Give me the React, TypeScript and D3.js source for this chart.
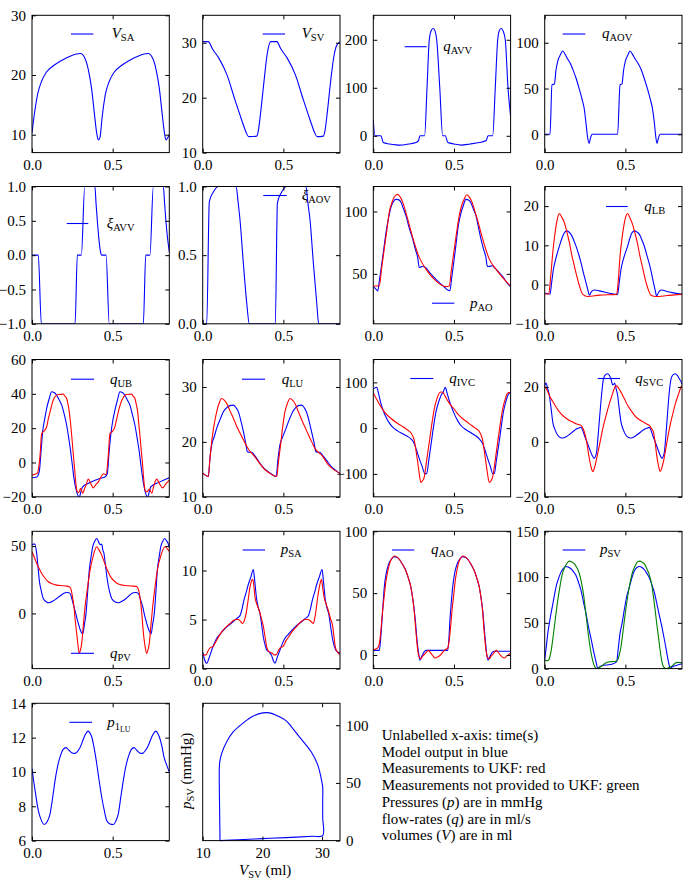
import React, { useEffect, useRef } from "react";
import * as d3 from "d3";

type Pt = [number, number];

const BLUE = "#0000ff";
const RED = "#ff0000";
const GREEN = "#008000";
const FONT = "Liberation Serif, Times New Roman, serif";

const timeTicks = [0, 0.5];
const tMax = 0.851;

// volumes
const vSA: Pt[] = [[0,10.3],[0.015,13.5],[0.035,16.8],[0.06,19.0],[0.09,20.5],[0.13,21.5],[0.18,22.4],[0.24,23.2],[0.3,23.6],[0.328,22.8],[0.349,20.9],[0.37,17.6],[0.386,13.7],[0.401,10.3],[0.411,9.1],[0.421,9.5],[0.435,13.0],[0.455,16.8],[0.48,19.0],[0.51,20.5],[0.55,21.5],[0.6,22.4],[0.66,23.2],[0.72,23.6],[0.748,22.8],[0.769,20.9],[0.79,17.6],[0.806,13.7],[0.821,10.3],[0.831,9.1],[0.841,9.5],[0.851,10.0]];
const vSV: Pt[] = [[0,30.2],[0.035,30.2],[0.06,28.9],[0.1,27.2],[0.15,24.2],[0.2,19.6],[0.235,16.5],[0.255,14.8],[0.27,13.6],[0.285,12.9],[0.335,13.0],[0.345,14.0],[0.36,17.5],[0.38,23.0],[0.4,28.0],[0.421,30.2],[0.459,30.2],[0.484,28.9],[0.524,27.2],[0.574,24.2],[0.624,19.6],[0.659,16.5],[0.679,14.8],[0.694,13.6],[0.709,12.9],[0.748,13.0],[0.758,14.0],[0.773,17.5],[0.793,23.0],[0.813,27.5],[0.83,29.5],[0.851,30.2]];

// valve flows and openings
const qAVV: Pt[] = [[0,33],[0.01,0],[0.047,0],[0.062,-14],[0.1,-17],[0.14,-19],[0.165,-19.4],[0.22,-17],[0.264,-14],[0.28,-10],[0.289,0],[0.318,0],[0.333,100],[0.347,200],[0.36,220],[0.372,223.6],[0.383,218],[0.393,200],[0.412,100],[0.43,0],[0.446,0],[0.462,-14],[0.5,-17],[0.543,-19.4],[0.6,-17],[0.657,-14],[0.7,-10],[0.711,0],[0.74,0],[0.756,100],[0.771,200],[0.782,220],[0.793,223.6],[0.805,218],[0.818,200],[0.835,100],[0.851,40]];
const qAOV: Pt[] = [[0,0],[0.033,0],[0.045,54],[0.06,55],[0.07,70],[0.081,80],[0.095,86],[0.112,91],[0.128,87],[0.143,82],[0.16,77],[0.174,71],[0.195,61],[0.215,49],[0.232,38],[0.246,27],[0.256,12],[0.265,-2],[0.275,-10],[0.284,-4],[0.293,0],[0.452,0],[0.467,54],[0.479,55],[0.489,70],[0.5,80],[0.514,86],[0.529,91],[0.545,87],[0.562,82],[0.58,77],[0.597,71],[0.617,61],[0.638,49],[0.655,38],[0.669,27],[0.68,12],[0.688,-2],[0.696,-10],[0.705,-4],[0.715,0],[0.851,0]];
const xiAVV: Pt[] = [[0,0],[0.039,0],[0.058,-1],[0.267,-1],[0.281,0],[0.306,0],[0.327,1],[0.39,1],[0.397,0.75],[0.405,0.5],[0.414,0.25],[0.423,0.07],[0.432,0],[0.459,0],[0.479,-1],[0.69,-1],[0.705,0],[0.731,0],[0.752,1],[0.814,1],[0.822,0.75],[0.83,0.5],[0.84,0.25],[0.851,0.05]];
const xiAOV: Pt[] = [[0,0],[0.025,0],[0.041,0.89],[0.066,0.96],[0.097,1],[0.207,1],[0.22,0.88],[0.231,0.76],[0.252,0.44],[0.273,0.15],[0.289,0],[0.45,0],[0.463,0.88],[0.49,0.96],[0.52,1],[0.64,1],[0.652,0.88],[0.665,0.76],[0.686,0.44],[0.707,0.15],[0.719,0],[0.851,0]];

// aortic pressure
const pAO: Pt[] = [[0,39.8],[0.015,38],[0.027,36.3],[0.038,45],[0.048,53.8],[0.063,68],[0.079,83.3],[0.095,95],[0.11,103.5],[0.125,108],[0.14,109.7],[0.155,109.5],[0.171,107.5],[0.186,102.5],[0.202,96.8],[0.222,87],[0.244,78],[0.26,70],[0.275,63.2],[0.285,55.1],[0.295,55.6],[0.302,55.9],[0.326,55],[0.347,51.5],[0.368,48.4],[0.409,43],[0.44,39.5],[0.461,37.1],[0.475,36.5],[0.485,46],[0.496,56.5],[0.511,72],[0.527,88.7],[0.542,98],[0.558,104.8],[0.574,109.7],[0.59,109.2],[0.605,107],[0.62,102],[0.636,96.8],[0.652,87],[0.667,78],[0.683,70],[0.698,63.2],[0.707,56],[0.715,55.9],[0.736,56.5],[0.76,53.8],[0.802,47.8],[0.847,40.3],[0.851,40]];
const pAOMeas: Pt[] = [[0,40.3],[0.037,40.3],[0.052,55],[0.068,70],[0.084,85],[0.099,99.5],[0.115,107],[0.13,111.6],[0.151,113.7],[0.167,111.5],[0.182,107.5],[0.198,101],[0.213,94],[0.244,79.3],[0.285,63.2],[0.326,53.8],[0.388,44.4],[0.45,39.8],[0.471,40.3],[0.483,52],[0.496,64.5],[0.515,82],[0.533,96.8],[0.548,105],[0.564,110],[0.579,113.4],[0.595,111.5],[0.612,107.5],[0.63,100],[0.647,92.7],[0.678,78],[0.719,61.8],[0.76,53.8],[0.802,47],[0.847,40.9],[0.851,40.5]];

// vessel flows
const qLB: Pt[] = [[0,-2.2],[0.033,-2.4],[0.043,0.5],[0.054,3.9],[0.07,6.8],[0.091,9.8],[0.107,11.8],[0.122,13.2],[0.136,13.7],[0.15,13.4],[0.163,12.8],[0.178,11.5],[0.194,9.8],[0.21,7.8],[0.225,5.6],[0.24,3],[0.256,0.5],[0.267,-1.3],[0.277,-2.7],[0.29,-1.8],[0.308,-1.4],[0.339,-1.6],[0.401,-2.2],[0.452,-2.5],[0.462,0.5],[0.473,3.9],[0.49,6.8],[0.514,9.8],[0.528,11.8],[0.541,13.2],[0.558,13.7],[0.572,13.4],[0.587,12.8],[0.603,11.3],[0.618,9.7],[0.633,7.5],[0.649,5.2],[0.662,2.9],[0.674,0.5],[0.684,-1.3],[0.694,-2.9],[0.707,-1.9],[0.721,-1.4],[0.773,-1.9],[0.847,-2.4],[0.851,-2.4]];
const qLBMeas: Pt[] = [[0,-2.4],[0.025,-2.4],[0.037,2],[0.05,8.1],[0.062,12.5],[0.074,15.8],[0.083,17.5],[0.091,18.1],[0.105,17.2],[0.122,15.8],[0.137,13.5],[0.153,10.7],[0.168,7.5],[0.184,4.7],[0.2,2],[0.215,-0.3],[0.236,-2.5],[0.267,-3.05],[0.339,-2.7],[0.446,-2.5],[0.456,1],[0.467,7.3],[0.48,12],[0.494,15.8],[0.504,17.5],[0.514,18.1],[0.528,17],[0.545,15.3],[0.56,13],[0.576,10.3],[0.59,7.3],[0.607,4.3],[0.622,1.5],[0.638,-0.8],[0.659,-2.7],[0.69,-3.05],[0.76,-2.8],[0.847,-2.5],[0.851,-2.5]];
const qUB: Pt[] = [[0,-8.9],[0.029,-8.5],[0.045,-5.4],[0.055,5],[0.066,17.9],[0.078,25],[0.091,31.5],[0.106,37],[0.122,41.2],[0.137,40.8],[0.153,39.2],[0.168,36.5],[0.184,33.4],[0.2,28],[0.215,21.7],[0.228,14],[0.24,6.2],[0.25,-1.5],[0.26,-9.3],[0.277,-17.1],[0.293,-20.2],[0.303,-17],[0.314,-14.2],[0.36,-11.7],[0.421,-9.3],[0.452,-8.5],[0.467,-6.4],[0.477,5],[0.488,15.9],[0.5,24],[0.514,30.5],[0.53,36.5],[0.545,41.2],[0.56,40.8],[0.576,39.2],[0.59,36.5],[0.607,33.4],[0.622,28],[0.638,21.7],[0.652,14],[0.665,6.2],[0.675,-1.5],[0.686,-9.3],[0.702,-17.1],[0.717,-20.2],[0.727,-17],[0.736,-14.2],[0.793,-11.3],[0.851,-8.9]];
const qUBMeas: Pt[] = [[0,-7.4],[0.033,-6.2],[0.05,4.3],[0.06,16.9],[0.074,18.3],[0.091,20.8],[0.1,25],[0.112,29.5],[0.124,34],[0.136,37.3],[0.15,39],[0.163,39.6],[0.194,39.8],[0.205,38.5],[0.215,37.3],[0.223,34],[0.231,29.5],[0.239,23],[0.246,15.9],[0.253,8],[0.26,0.4],[0.267,-7],[0.273,-13.2],[0.281,-17.1],[0.29,-17.5],[0.302,-15.1],[0.314,-17.9],[0.325,-15.5],[0.335,-13.2],[0.349,-9.7],[0.364,-12.2],[0.38,-14.8],[0.395,-13],[0.411,-11.3],[0.426,-8.8],[0.442,-6.6],[0.459,-7],[0.473,4.3],[0.483,16.9],[0.5,18.3],[0.514,20.8],[0.524,25],[0.535,29.5],[0.548,34],[0.562,37.3],[0.575,39],[0.587,39.6],[0.618,39.8],[0.628,38.5],[0.638,37.3],[0.646,34],[0.655,29.5],[0.662,22.5],[0.669,15.9],[0.676,8],[0.684,0.4],[0.69,-7],[0.696,-13.2],[0.705,-17.1],[0.714,-17],[0.727,-15.5],[0.742,-17.9],[0.756,-13.2],[0.773,-9.7],[0.789,-12.2],[0.81,-14.8],[0.83,-12.5],[0.851,-10.3]];
const qLU: Pt[] = [[0,14.3],[0.035,13.7],[0.045,17],[0.056,19.5],[0.07,20.8],[0.087,22.5],[0.108,24.1],[0.128,25.5],[0.148,26.2],[0.169,26.6],[0.19,26.7],[0.205,26.3],[0.221,25.5],[0.237,23.8],[0.252,21.9],[0.265,20],[0.277,18.2],[0.29,18.1],[0.304,18.1],[0.32,17.6],[0.335,17],[0.355,16.1],[0.376,15.3],[0.4,14.7],[0.428,14.1],[0.455,13.7],[0.467,17],[0.479,19.5],[0.497,21],[0.517,22.5],[0.537,24.1],[0.558,25.5],[0.575,26.2],[0.593,26.6],[0.614,26.7],[0.63,26.2],[0.645,25.3],[0.66,23.7],[0.676,21.7],[0.69,19.9],[0.702,18.2],[0.715,18.1],[0.727,18.1],[0.742,17.6],[0.758,17],[0.779,16.2],[0.8,15.4],[0.825,14.8],[0.847,14.3],[0.851,14.2]];
const qLUMeas: Pt[] = [[0,14.3],[0.035,13.7],[0.045,17],[0.056,20.1],[0.07,23],[0.087,25.5],[0.1,26.9],[0.118,27.9],[0.133,27.6],[0.149,27.0],[0.17,25.6],[0.19,24.3],[0.21,22.9],[0.231,21.6],[0.252,20.4],[0.273,19.2],[0.293,18.3],[0.314,17.6],[0.345,16.4],[0.376,15.2],[0.41,14.4],[0.438,13.9],[0.459,13.7],[0.47,16.5],[0.483,19.5],[0.497,23],[0.51,25.5],[0.525,27],[0.541,27.9],[0.556,27.6],[0.572,27.0],[0.593,25.5],[0.614,24],[0.635,22.6],[0.655,21.3],[0.676,20],[0.696,18.8],[0.717,18.1],[0.738,17.6],[0.758,16.7],[0.779,15.8],[0.81,15],[0.847,14.3],[0.851,14.2]];
const qIVC: Pt[] = [[0,85.5],[0.01,88],[0.021,89.1],[0.035,72],[0.048,52.9],[0.063,37],[0.079,23.9],[0.1,11],[0.12,2.2],[0.15,-6],[0.182,-12.3],[0.21,-17.5],[0.233,-23.2],[0.245,-28],[0.254,-34],[0.27,-50],[0.285,-66.7],[0.302,-83],[0.32,-99.3],[0.331,-99.3],[0.344,-70],[0.357,-37.7],[0.372,0],[0.388,34.8],[0.404,56],[0.419,71],[0.435,80],[0.446,89.1],[0.458,76],[0.471,60.1],[0.486,45],[0.502,31.2],[0.522,17],[0.543,5.8],[0.575,-3.5],[0.605,-10.1],[0.632,-16],[0.657,-23.2],[0.668,-28],[0.678,-34],[0.694,-50],[0.709,-66.7],[0.725,-83],[0.74,-99.3],[0.75,-99.3],[0.763,-70],[0.777,-37.7],[0.792,0],[0.806,34.8],[0.82,56],[0.833,71],[0.851,78.3]];
const qIVCMeas: Pt[] = [[0,76.8],[0.018,65],[0.037,52.9],[0.058,41],[0.079,31.2],[0.11,21],[0.14,13],[0.17,6],[0.202,-1.4],[0.22,-6],[0.233,-10.1],[0.245,-18],[0.254,-26.8],[0.265,-50],[0.275,-73.9],[0.285,-100],[0.295,-118.8],[0.305,-115],[0.316,-106.5],[0.33,-72],[0.347,-30.4],[0.362,7],[0.378,42],[0.394,64],[0.409,76.8],[0.42,79],[0.43,78.3],[0.445,70],[0.461,60.1],[0.476,52],[0.492,45.7],[0.517,34],[0.543,23.9],[0.575,15],[0.605,7.2],[0.632,0],[0.657,-7.2],[0.668,-15],[0.678,-26.8],[0.688,-50],[0.698,-75],[0.708,-100],[0.719,-118.8],[0.73,-115],[0.74,-106.5],[0.755,-72],[0.771,-30.4],[0.786,7],[0.802,42],[0.818,64],[0.833,76.8],[0.851,78.3]];
const qSVC: Pt[] = [[0,20.5],[0.008,21.4],[0.018,19.5],[0.029,16.9],[0.04,12],[0.05,7.2],[0.065,4.3],[0.081,2.4],[0.096,1.6],[0.112,1.4],[0.133,1.9],[0.153,2.7],[0.174,3.7],[0.194,4.6],[0.21,5.0],[0.225,5.3],[0.236,4.2],[0.246,2.4],[0.262,0],[0.277,-2.4],[0.293,-4.8],[0.308,-6],[0.315,-5.2],[0.322,-3.6],[0.332,3],[0.343,10.8],[0.354,18],[0.364,22.9],[0.377,24.5],[0.39,24.8],[0.401,24.2],[0.411,22.9],[0.421,20.7],[0.428,21.0],[0.434,21.4],[0.442,19.5],[0.452,16.9],[0.462,12],[0.473,7.2],[0.488,4.3],[0.504,2.4],[0.52,1.6],[0.535,1.4],[0.556,1.9],[0.576,2.7],[0.597,3.7],[0.618,4.6],[0.633,5],[0.649,5.3],[0.659,4.2],[0.669,2.4],[0.685,0],[0.7,-2.4],[0.715,-4.8],[0.727,-6],[0.735,-5.2],[0.742,-3.6],[0.752,3],[0.762,10.8],[0.772,18],[0.783,22.9],[0.796,24.5],[0.81,24.8],[0.822,24.2],[0.835,22.9],[0.847,21.7],[0.851,21.0]];
const qSVCMeas: Pt[] = [[0,20.2],[0.015,18.8],[0.029,16.9],[0.05,14.7],[0.07,12.7],[0.09,11],[0.112,9.6],[0.133,8.6],[0.153,7.8],[0.174,7.2],[0.194,6.6],[0.21,6.3],[0.225,6.0],[0.236,5.0],[0.246,3.6],[0.26,0],[0.273,-4.8],[0.285,-8.6],[0.298,-10.8],[0.308,-9.6],[0.318,-7.2],[0.34,-1],[0.36,4.8],[0.38,9.5],[0.401,13.9],[0.42,17.5],[0.442,20.5],[0.458,19.6],[0.473,18.1],[0.494,15.7],[0.514,13.3],[0.54,11],[0.566,9],[0.592,7.9],[0.618,7],[0.633,6.5],[0.649,6],[0.66,5],[0.674,3.6],[0.684,0],[0.694,-4.8],[0.705,-8.6],[0.715,-10.8],[0.725,-9.6],[0.736,-7.2],[0.755,-1],[0.773,4.8],[0.791,9.5],[0.81,13.9],[0.83,17.5],[0.847,20.2],[0.851,20.5]];
const qPV: Pt[] = [[0,50.7],[0.008,51.5],[0.017,51.5],[0.029,44.6],[0.037,35],[0.045,24.8],[0.058,16.5],[0.07,11.1],[0.088,8.7],[0.107,7.9],[0.13,9.2],[0.153,11.1],[0.18,13.5],[0.205,15.3],[0.22,15.5],[0.236,14.9],[0.248,10.5],[0.26,5],[0.274,-1.5],[0.287,-7.4],[0.3,-12.5],[0.314,-15.3],[0.325,-8],[0.335,0],[0.345,16],[0.355,32.2],[0.366,42],[0.376,49.5],[0.388,53.5],[0.401,55.7],[0.41,54],[0.417,52],[0.425,51],[0.432,51.5],[0.439,47],[0.446,44.6],[0.456,35],[0.467,24.8],[0.48,16.5],[0.494,11.1],[0.514,8.7],[0.535,7.9],[0.56,9.2],[0.583,11.1],[0.605,13.5],[0.628,15.3],[0.643,15.5],[0.659,14.9],[0.672,10.5],[0.686,5],[0.698,-1.5],[0.711,-7.4],[0.725,-12.5],[0.738,-15.3],[0.748,-8],[0.758,0],[0.768,16],[0.777,32.2],[0.788,42],[0.798,49.5],[0.81,53.5],[0.822,55.7],[0.834,54],[0.845,51.5],[0.851,49]];
const qPVMeas: Pt[] = [[0,45.8],[0.015,41.5],[0.029,37.1],[0.045,33.2],[0.06,29.7],[0.08,26.3],[0.101,23.5],[0.125,22],[0.153,21],[0.185,20.6],[0.215,20.3],[0.23,19.8],[0.24,18.6],[0.25,13],[0.26,5],[0.268,-5],[0.277,-14.9],[0.285,-23.5],[0.293,-29.7],[0.3,-27.5],[0.308,-22.3],[0.318,-9],[0.329,5],[0.344,19],[0.36,32.2],[0.38,43],[0.401,49.5],[0.416,47],[0.432,43.3],[0.447,38.5],[0.463,33.4],[0.478,29.3],[0.494,26],[0.515,23.5],[0.535,21.8],[0.566,20.9],[0.597,20.5],[0.625,20.3],[0.649,20],[0.659,18],[0.669,12.4],[0.679,2],[0.69,-14],[0.7,-24],[0.711,-29.7],[0.719,-27],[0.727,-22.3],[0.737,-9],[0.748,5],[0.762,19],[0.777,32.2],[0.8,43.5],[0.824,49.5],[0.845,47],[0.851,46]];

// atrial / ventricular pressures and aortic flow
const pSA: Pt[] = [[0,1.7],[0.012,0.9],[0.025,0.54],[0.04,1.1],[0.056,1.9],[0.07,2.5],[0.087,3.1],[0.107,3.5],[0.128,3.9],[0.16,4.4],[0.19,4.8],[0.21,5.1],[0.231,5.4],[0.244,6.1],[0.256,7],[0.27,7.8],[0.283,8.6],[0.298,9.3],[0.314,10.1],[0.322,9.0],[0.335,7],[0.345,6.2],[0.355,5.6],[0.366,4.4],[0.376,3.2],[0.387,2.4],[0.397,1.9],[0.412,1.7],[0.428,1.3],[0.438,0.8],[0.448,0.54],[0.463,1.2],[0.479,1.9],[0.495,2.6],[0.51,3.1],[0.531,3.5],[0.552,3.9],[0.583,4.4],[0.614,4.8],[0.635,5.1],[0.655,5.4],[0.668,6.1],[0.68,7],[0.694,7.8],[0.707,8.6],[0.722,9.3],[0.74,10.1],[0.748,9],[0.76,7],[0.77,6.2],[0.781,5.6],[0.792,4.4],[0.802,3.3],[0.812,2.5],[0.822,2],[0.835,1.7],[0.847,1.6],[0.851,1.6]];
const pSAMeas: Pt[] = [[0,1.4],[0.021,1.4],[0.033,1.8],[0.045,2.1],[0.066,2.3],[0.08,2.7],[0.097,3.2],[0.12,3.8],[0.149,4.3],[0.17,4.6],[0.19,4.9],[0.205,5.0],[0.221,5.0],[0.235,4.8],[0.248,4.6],[0.258,4.9],[0.269,5.6],[0.28,6.8],[0.293,8.3],[0.31,9.1],[0.318,8.3],[0.324,7.3],[0.335,6.6],[0.351,5.9],[0.364,5.1],[0.376,4.3],[0.387,3.2],[0.397,2.2],[0.412,1.7],[0.428,1.6],[0.445,1.4],[0.455,1.4],[0.468,1.8],[0.479,2.1],[0.5,2.3],[0.515,2.8],[0.531,3.2],[0.555,3.8],[0.583,4.3],[0.61,4.8],[0.634,5],[0.65,5],[0.665,4.9],[0.686,4.6],[0.695,5.2],[0.702,5.9],[0.712,7.2],[0.723,8.3],[0.736,9.1],[0.744,8.2],[0.752,7.3],[0.765,6.6],[0.779,5.9],[0.792,5.1],[0.806,4.3],[0.814,3.2],[0.822,2.2],[0.835,1.7],[0.847,1.5],[0.851,1.5]];
const qAO: Pt[] = [[0,3.7],[0.037,3.7],[0.045,12],[0.054,28.2],[0.061,42],[0.068,54.8],[0.08,66],[0.095,73.4],[0.112,77.5],[0.13,79.5],[0.145,79],[0.161,77.4],[0.18,73.5],[0.202,68.1],[0.218,62],[0.233,54.8],[0.244,46],[0.254,36.2],[0.262,26],[0.269,14.9],[0.275,7],[0.281,1.6],[0.289,-4.3],[0.297,-2],[0.306,0.3],[0.315,2.5],[0.326,3.7],[0.461,3.7],[0.468,12],[0.475,28.2],[0.483,42],[0.492,54.8],[0.504,66],[0.519,73.4],[0.536,77.5],[0.554,79.5],[0.57,79],[0.585,77.4],[0.605,73.5],[0.626,68.1],[0.642,62],[0.657,54.8],[0.668,46],[0.678,36.2],[0.685,26],[0.692,14.9],[0.698,7],[0.702,1.6],[0.711,-4.3],[0.72,-2],[0.729,0.3],[0.74,2.5],[0.75,3],[0.851,3]];
const qAOMeas: Pt[] = [[0,4.3],[0.027,5.6],[0.035,8],[0.041,12.2],[0.05,24],[0.058,36.2],[0.068,48],[0.079,60.1],[0.09,68],[0.103,74.7],[0.115,78],[0.13,80],[0.145,79.3],[0.161,77.4],[0.18,73.5],[0.202,68.1],[0.218,62],[0.233,54.8],[0.244,46],[0.254,34.8],[0.262,22],[0.269,12],[0.275,4],[0.281,-0.5],[0.288,-2.5],[0.295,-3.2],[0.305,-1],[0.316,0.3],[0.33,2.5],[0.343,3.7],[0.353,2],[0.364,0.3],[0.374,-1.5],[0.384,-2.4],[0.4,-1.5],[0.419,0.3],[0.432,2.5],[0.446,4.3],[0.461,5.6],[0.466,8],[0.471,12.2],[0.48,24],[0.488,36.2],[0.498,48],[0.508,60.1],[0.518,68],[0.529,74.7],[0.54,78],[0.554,80],[0.57,79.3],[0.585,77.4],[0.605,73.5],[0.626,68.1],[0.642,62],[0.657,54.8],[0.668,46],[0.678,34.8],[0.685,22],[0.692,12],[0.698,4],[0.705,-0.5],[0.712,-2.5],[0.719,-3.2],[0.73,-1],[0.74,0.3],[0.752,2.5],[0.764,3.7],[0.774,2],[0.785,0.3],[0.798,-1.5],[0.812,-2.4],[0.83,-0.5],[0.851,1.6]];
const pSV: Pt[] = [[0,9.4],[0.01,24],[0.019,38.4],[0.029,50],[0.039,60.1],[0.055,75],[0.07,89.1],[0.085,98],[0.101,105.4],[0.116,109.5],[0.132,111.6],[0.148,110.8],[0.163,109.1],[0.178,106],[0.194,101.8],[0.21,94],[0.225,85.5],[0.24,73],[0.256,60.1],[0.271,46],[0.287,33],[0.302,20],[0.318,7.6],[0.329,0],[0.339,1.8],[0.349,2.9],[0.38,3.9],[0.421,5.1],[0.446,7.6],[0.456,22],[0.467,38.4],[0.48,50],[0.494,65],[0.51,80],[0.525,89.1],[0.54,99],[0.556,107],[0.571,110.5],[0.587,111.6],[0.603,110.5],[0.618,108],[0.633,104],[0.649,99],[0.664,92],[0.679,83.7],[0.695,71],[0.711,58],[0.727,45],[0.742,31.5],[0.756,18],[0.769,5.8],[0.779,0],[0.79,2],[0.804,2.9],[0.825,4],[0.847,5.1],[0.851,5.3]];
const pSVHidden: Pt[] = [[0,8.7],[0.015,8.7],[0.025,9.4],[0.032,13],[0.039,18.5],[0.05,32],[0.06,45.7],[0.07,60],[0.081,74.6],[0.094,89],[0.107,101.8],[0.12,109],[0.136,114.5],[0.153,117.4],[0.168,116.5],[0.184,114.5],[0.2,110],[0.215,103.6],[0.228,94],[0.24,81.9],[0.25,68],[0.26,52.9],[0.27,38],[0.281,23.9],[0.292,13],[0.302,5.8],[0.312,1.5],[0.322,0],[0.335,1],[0.349,2.2],[0.365,4.5],[0.38,6.5],[0.4,7.3],[0.421,7.6],[0.44,8],[0.452,9.4],[0.462,15],[0.473,23.9],[0.483,37],[0.494,52.9],[0.507,70],[0.521,85.9],[0.533,97],[0.545,105.8],[0.56,112],[0.576,116.8],[0.591,117.4],[0.605,116],[0.618,114.5],[0.633,109],[0.649,102.2],[0.662,93],[0.674,78.6],[0.684,65],[0.694,49.6],[0.705,35],[0.715,20.6],[0.726,8],[0.736,2.2],[0.752,0],[0.767,0.8],[0.783,2.2],[0.8,4.5],[0.814,6.5],[0.83,6.8],[0.847,6.5],[0.851,6.5]];
const p1LU: Pt[] = [[0,10.2],[0.01,9.5],[0.019,8.93],[0.029,8.3],[0.039,7.76],[0.055,7.25],[0.076,6.94],[0.094,7.1],[0.112,7.56],[0.128,8.5],[0.143,9.51],[0.158,10.3],[0.174,10.88],[0.192,11.3],[0.211,11.42],[0.23,11.25],[0.246,11.12],[0.26,11.08],[0.273,11.11],[0.286,11.25],[0.298,11.42],[0.314,11.8],[0.329,12.15],[0.349,12.38],[0.36,12.25],[0.37,12.05],[0.385,11.4],[0.401,10.49],[0.416,9.5],[0.432,8.54],[0.447,7.8],[0.463,7.17],[0.483,6.97],[0.504,6.94],[0.52,7.15],[0.535,7.56],[0.55,8.5],[0.566,9.51],[0.581,10.3],[0.597,10.88],[0.615,11.3],[0.632,11.42],[0.65,11.25],[0.665,11.12],[0.678,11.08],[0.69,11.11],[0.703,11.25],[0.715,11.42],[0.732,11.8],[0.748,12.15],[0.769,12.38],[0.779,12.25],[0.789,12.05],[0.805,11.5],[0.818,10.88],[0.835,10.4],[0.851,10]];

// pressure-volume loop of the single ventricle: [V (ml), p (mmHg)]
const pvLoop: Pt[] = [[12.9,0],[16,0.8],[20,1.7],[24,2.6],[28.4,3.8],[30.1,4.3],[30.1,20],[30.1,34.8],[30.1,46.4],[29.8,55.1],[29.3,65.2],[28.2,76.8],[26.2,89.9],[25.1,97.1],[24,103.8],[22.3,108.7],[21.2,110.7],[20.1,110.7],[18.4,107.8],[16.8,102],[15.1,94.2],[14,85.5],[13.17,75.4],[12.85,68],[12.78,62.3],[12.8,40],[12.85,20],[12.9,0]];
const pvXTicks = [10, 20, 30];
const pvYTicks = [0, 50, 100];

const notes: { t: string; it?: boolean }[][] = [
  [{ t: "Unlabelled x-axis: time(s)" }],
  [{ t: "Model output in blue" }],
  [{ t: "Measurements to UKF: red" }],
  [{ t: "Measurements not provided to UKF: green" }],
  [{ t: "Pressures (" }, { t: "p", it: true }, { t: ") are in mmHg" }],
  [{ t: "flow-rates (" }, { t: "q", it: true }, { t: ") are in ml/s" }],
  [{ t: "volumes (" }, { t: "V", it: true }, { t: ") are in ml" }],
];

interface Panel {
  sym: string;
  sub: string[];
  yDomain: [number, number];
  yTicks: number[];
  dec?: number;
  series: { data: Pt[]; color: string }[];
  legend: [number, number, number, number]; // line x1, line x2, y, text x (panel coords)
}

const panels: Panel[] = [
  { sym: "V", sub: ["SA"], yDomain: [7, 30], yTicks: [10, 20, 30], series: [{ data: vSA, color: BLUE }], legend: [39, 61.3, 18.7, 79.7] },
  { sym: "V", sub: ["SV"], yDomain: [10, 35], yTicks: [10, 20, 30], series: [{ data: vSV, color: BLUE }], legend: [60, 82.3, 18.7, 99] },
  { sym: "q", sub: ["AVV"], yDomain: [-35, 251], yTicks: [0, 100, 200], series: [{ data: qAVV, color: BLUE }], legend: [31.4, 53.4, 31.4, 70] },
  { sym: "q", sub: ["AOV"], yDomain: [-20, 130], yTicks: [0, 50, 100], series: [{ data: qAOV, color: BLUE }], legend: [18, 40.6, 18.7, 57.3] },
  { sym: "ξ", sub: ["AVV"], yDomain: [-1, 1], yTicks: [-1, -0.5, 0, 0.5, 1], dec: 1, series: [{ data: xiAVV, color: BLUE }], legend: [34.7, 56.3, 37, 74.7] },
  { sym: "ξ", sub: ["AOV"], yDomain: [0, 1], yTicks: [0, 0.5, 1], dec: 1, series: [{ data: xiAOV, color: BLUE }], legend: [60.6, 84, 9, 99] },
  { sym: "p", sub: ["AO"], yDomain: [10, 120], yTicks: [50, 100], series: [{ data: pAO, color: BLUE }, { data: pAOMeas, color: RED }], legend: [58.7, 81, 116.7, 96.7] },
  { sym: "q", sub: ["LB"], yDomain: [-10, 25], yTicks: [-10, 0, 10, 20], series: [{ data: qLB, color: BLUE }, { data: qLBMeas, color: RED }], legend: [61.3, 83, 20, 99.6] },
  { sym: "q", sub: ["UB"], yDomain: [-20, 60], yTicks: [-20, 0, 20, 40, 60], series: [{ data: qUB, color: BLUE }, { data: qUBMeas, color: RED }], legend: [39, 62, 19.7, 78] },
  { sym: "q", sub: ["LU"], yDomain: [10, 35], yTicks: [10, 20, 30], series: [{ data: qLU, color: BLUE }, { data: qLUMeas, color: RED }], legend: [39.3, 62.3, 19.7, 79] },
  { sym: "q", sub: ["IVC"], yDomain: [-150, 150], yTicks: [-100, 0, 100], series: [{ data: qIVC, color: BLUE }, { data: qIVCMeas, color: RED }], legend: [37, 60, 19, 76] },
  { sym: "q", sub: ["SVC"], yDomain: [-20, 30], yTicks: [-20, 0, 20], series: [{ data: qSVC, color: BLUE }, { data: qSVCMeas, color: RED }], legend: [53, 75.3, 19, 90.6] },
  { sym: "q", sub: ["PV"], yDomain: [-41, 61], yTicks: [0, 50], series: [{ data: qPV, color: BLUE }, { data: qPVMeas, color: RED }], legend: [39, 62, 122, 78] },
  { sym: "p", sub: ["SA"], yDomain: [0, 14], yTicks: [0, 5, 10], series: [{ data: pSA, color: BLUE }, { data: pSAMeas, color: RED }], legend: [40, 62.3, 18.7, 78] },
  { sym: "q", sub: ["AO"], yDomain: [-11, 100], yTicks: [0, 50, 100], series: [{ data: qAO, color: BLUE }, { data: qAOMeas, color: RED }], legend: [18.7, 41, 18.7, 57.7] },
  { sym: "p", sub: ["SV"], yDomain: [0, 150], yTicks: [0, 50, 100, 150], series: [{ data: pSV, color: BLUE }, { data: pSVHidden, color: GREEN }], legend: [18, 40.6, 18.7, 55.3] },
  { sym: "p", sub: ["1", "LU"], yDomain: [6, 14], yTicks: [6, 8, 10, 12, 14], series: [{ data: p1LU, color: BLUE }], legend: [37.3, 60, 19, 75.3] },
];

const colX = [32, 202.7, 373.3, 544.7];
const rowY = [15.3, 186.5, 359.5, 531.3, 703.3];
const W = 137.3;
const H = 137.3;
const TICK = 4;
const FS = 15;

type G = d3.Selection<SVGGElement, unknown, null, undefined>;

function symbol(g: G, x: number, y: number, sym: string, sub: string[], tail = "") {
  const t = g.append("text").attr("x", x).attr("y", y).attr("font-family", FONT).attr("font-size", FS).attr("fill", "#000");
  t.append("tspan").attr("font-style", "italic").text(sym);
  t.append("tspan").attr("font-size", FS * 0.7).attr("dy", 3).text(sub[0]);
  let drop = 3;
  if (sub[1]) {
    t.append("tspan").attr("font-size", FS * 0.52).attr("dy", 2).text(sub[1]);
    drop += 2;
  }
  if (tail) t.append("tspan").attr("dy", -drop).text(tail);
  return t;
}

function frame(g: G, x: d3.ScaleLinear<number, number>, y: d3.ScaleLinear<number, number>, xTicks: number[], yTicks: number[], xFmt: (v: number) => string, yFmt: (v: number) => string, yRight = false) {
  const style = (a: G) => {
    a.attr("font-family", FONT).attr("font-size", FS);
    a.select(".domain").remove();
    a.selectAll("line").attr("stroke", "#000").attr("stroke-width", 1);
    a.selectAll("text").attr("fill", "#000");
  };
  g.append("g").attr("transform", `translate(0,${H})`)
    .call(d3.axisBottom(x).tickValues(xTicks).tickFormat((v) => xFmt(+v)).tickSizeInner(-TICK).tickSizeOuter(0).tickPadding(7))
    .call(style);
  g.append("g")
    .call(d3.axisTop(x).tickValues(xTicks).tickFormat(() => "").tickSizeInner(-TICK).tickSizeOuter(0))
    .call(style);
  if (!yRight) {
    g.append("g")
      .call(d3.axisLeft(y).tickValues(yTicks).tickFormat((v) => yFmt(+v)).tickSizeInner(-TICK).tickSizeOuter(0).tickPadding(6))
      .call(style);
  }
  g.append("g").attr("transform", `translate(${W},0)`)
    .call(d3.axisRight(y).tickValues(yTicks).tickFormat((v) => (yRight ? yFmt(+v) : "")).tickSizeInner(-TICK).tickSizeOuter(0).tickPadding(6))
    .call(style);
  g.append("rect").attr("width", W).attr("height", H).attr("fill", "none").attr("stroke", "#000").attr("stroke-width", 1);
}

function draw(svg: SVGSVGElement) {
  const root = d3.select(svg);
  root.selectAll("*").remove();
  const defs = root.append("defs");

  panels.forEach((p, i) => {
    const g: G = root.append("g").attr("transform", `translate(${colX[i % 4]},${rowY[Math.floor(i / 4)]})`);
    const x = d3.scaleLinear().domain([0, tMax]).range([0, W]);
    const y = d3.scaleLinear().domain(p.yDomain).range([H, 0]);
    defs.append("clipPath").attr("id", `clip${i}`).append("rect").attr("width", W).attr("height", H);

    const line = d3.line<Pt>().x((d) => x(d[0])).y((d) => y(d[1])).curve(d3.curveMonotoneX);
    const plot = g.append("g").attr("clip-path", `url(#clip${i})`);
    p.series.forEach((s) => {
      plot.append("path").attr("d", line(s.data)).attr("fill", "none").attr("stroke", s.color).attr("stroke-width", 1.1);
    });

    const yFmt = p.dec ? d3.format(".1f") : d3.format("d");
    frame(g, x, y, timeTicks, p.yTicks, d3.format(".1f"), yFmt);

    const [lx1, lx2, ly, tx] = p.legend;
    g.append("line").attr("x1", lx1).attr("x2", lx2).attr("y1", ly).attr("y2", ly).attr("stroke", BLUE).attr("stroke-width", 1.1);
    symbol(g, tx, ly + 4.5, p.sym, p.sub);
  });

  // pressure-volume loop
  const g: G = root.append("g").attr("transform", `translate(${colX[1]},${rowY[4]})`);
  const x = d3.scaleLinear().domain([10, 33]).range([0, W]);
  const y = d3.scaleLinear().domain([0, 119]).range([H, 0]);
  const loop = d3.line<Pt>().x((d) => x(d[0])).y((d) => y(d[1])).curve(d3.curveCatmullRom.alpha(0.5));
  g.append("path").attr("d", loop(pvLoop)).attr("fill", "none").attr("stroke", BLUE).attr("stroke-width", 1.1);
  frame(g, x, y, pvXTicks, pvYTicks, d3.format("d"), d3.format("d"), true);
  symbol(g, 62.5, H + 34, "V", ["SV"], " (ml)").attr("text-anchor", "middle");
  symbol(g, 0, 0, "p", ["SV"], " (mmHg)").attr("text-anchor", "middle").attr("transform", `translate(-12,${H / 2 - 1}) rotate(-90)`);

  // notes
  const n = root.append("g").attr("font-family", FONT).attr("font-size", FS).attr("fill", "#000");
  notes.forEach((segs, k) => {
    const t = n.append("text").attr("x", 381.7).attr("y", 740 + k * 16.7);
    segs.forEach((s) => {
      const ts = t.append("tspan").text(s.t);
      if (s.it) ts.attr("font-style", "italic");
    });
  });
}

export default function App() {
  const ref = useRef<SVGSVGElement>(null);
  useEffect(() => {
    if (ref.current) draw(ref.current);
  }, []);
  return (
    <svg
      ref={ref}
      width={692}
      height={880}
      style={{ position: "absolute", left: 0, top: 0, background: "#fff" }}
    />
  );
}
